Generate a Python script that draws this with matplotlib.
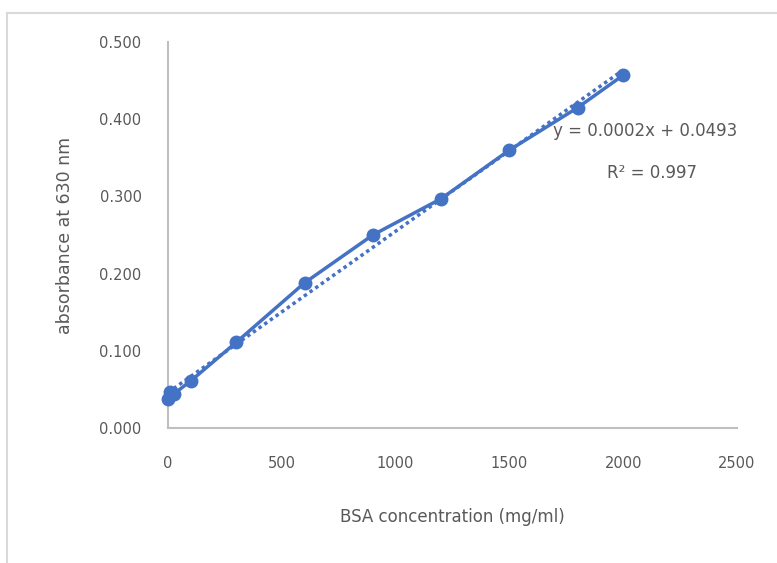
import numpy as np
import matplotlib
matplotlib.use("Agg")
import matplotlib.pyplot as plt
from matplotlib.lines import Line2D

# BSA standard curve
concentration = [0, 10, 25, 100, 300, 600, 900, 1200, 1500, 1800, 2000]
absorbance = [0.037, 0.047, 0.044, 0.061, 0.111, 0.188, 0.250, 0.297, 0.360, 0.415, 0.457]

x_ticks = [0, 500, 1000, 1500, 2000, 2500]
y_ticks = [0.0, 0.1, 0.2, 0.3, 0.4, 0.5]
equation_text = "y = 0.0002x + 0.0493"
r2_text = "R² = 0.997"

blue = "#4472C4"
grey_text = "#595959"
grey_axis = "#BFBFBF"

fig = plt.figure(figsize=(7.77, 5.63), dpi=100)
ax = fig.add_axes([0.2162, 0.2398, 0.7323, 0.6856])

# linear trendline through the data
slope, intercept = np.polyfit(concentration, absorbance, 1)
xs = np.array([min(concentration), max(concentration)])
ax.plot(xs, slope * xs + intercept, linestyle=(0, (1, 1)), color=blue, lw=2.5, zorder=2)

ax.plot(concentration, absorbance, color=blue, lw=2.5, marker="o",
        markersize=9, zorder=3, clip_on=False)

ax.set_xlim(0, 2500)
ax.set_ylim(0, 0.5)
ax.set_xticks(x_ticks)
ax.set_yticks(y_ticks)
ax.set_yticklabels([f"{v:.3f}" for v in y_ticks])

for side in ["top", "right"]:
    ax.spines[side].set_visible(False)
for side in ["left", "bottom"]:
    ax.spines[side].set_color(grey_axis)
    ax.spines[side].set_linewidth(1.5)

ax.tick_params(axis="both", length=0, colors=grey_text, labelsize=10.5)
ax.tick_params(axis="x", pad=20)
ax.tick_params(axis="y", pad=19)

ax.set_xlabel("BSA concentration (mg/ml)", fontsize=12, color=grey_text, labelpad=27)
ax.set_ylabel("absorbance at 630 nm", fontsize=12.5, color=grey_text, labelpad=18)

ax.text(0.676, 0.77, equation_text, transform=ax.transAxes, fontsize=12,
        color=grey_text, va="center", ha="left")
ax.text(0.771, 0.66, r2_text, transform=ax.transAxes, fontsize=12,
        color=grey_text, va="center", ha="left")

# outer chart-area border (only top and left visible in the crop)
fig.add_artist(Line2D([7 / 777, 1.0], [1 - 13 / 563, 1 - 13 / 563],
                      transform=fig.transFigure, color="#D9D9D9", lw=1.5))
fig.add_artist(Line2D([7 / 777, 7 / 777], [0.0, 1 - 13 / 563],
                      transform=fig.transFigure, color="#D9D9D9", lw=1.5))

fig.savefig("out.png", dpi=100)
